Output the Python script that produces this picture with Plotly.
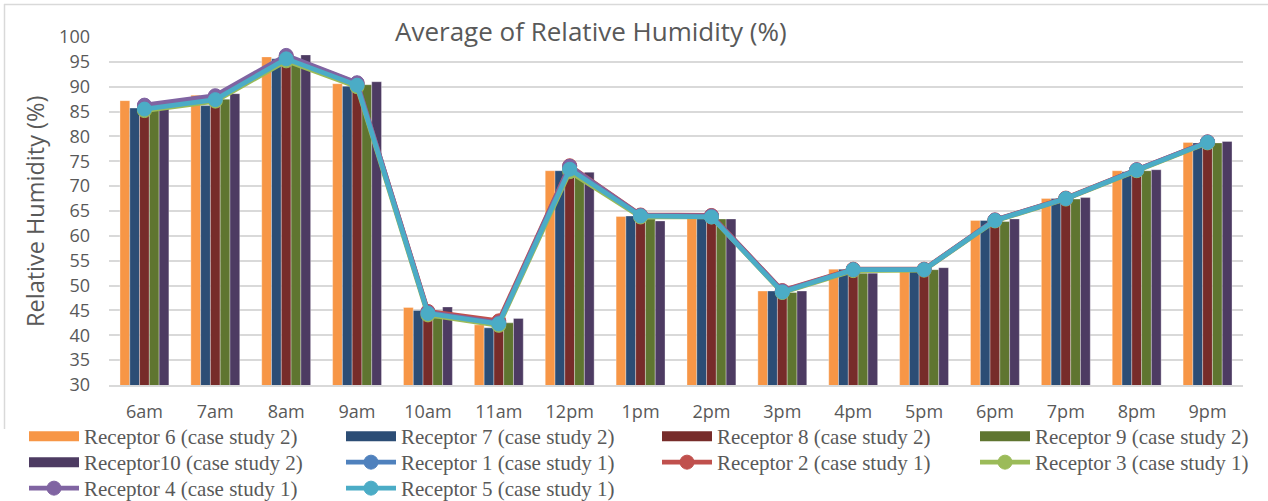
import plotly.graph_objects as go

hours = ["6am", "7am", "8am", "9am", "10am", "11am", "12pm", "1pm",
         "2pm", "3pm", "4pm", "5pm", "6pm", "7pm", "8pm", "9pm"]

# Case study 2 receptors (bars)
receptor6 = [87.2, 88.3, 96.0, 90.6, 45.6, 42.1, 73.1, 63.9, 63.6, 48.9, 53.3, 52.9, 63.1, 67.5, 73.1, 78.8]
receptor7 = [85.7, 86.2, 95.6, 90.1, 45.0, 41.5, 73.1, 64.0, 63.5, 48.9, 53.3, 53.2, 63.1, 67.5, 72.9, 78.7]
receptor8 = [85.8, 86.8, 95.9, 90.3, 44.4, 41.9, 73.2, 63.5, 63.2, 48.4, 52.9, 53.0, 62.9, 67.3, 72.9, 78.6]
receptor9 = [85.3, 87.5, 95.3, 90.4, 43.5, 42.5, 72.5, 63.4, 63.4, 48.6, 52.5, 53.2, 62.9, 67.4, 73.1, 78.7]
receptor10 = [85.5, 88.6, 96.4, 91.0, 45.7, 43.4, 72.8, 63.0, 63.4, 48.9, 52.5, 53.6, 63.4, 67.7, 73.3, 79.0]

# Case study 1 receptors (lines)
receptor1 = [85.7, 87.6, 95.8, 90.4, 44.5, 42.4, 73.5, 64.0, 64.0, 48.8, 53.2, 53.2, 63.1, 67.5, 73.2, 78.8]
receptor2 = [86.1, 88.0, 96.1, 90.7, 44.8, 42.9, 74.1, 64.2, 64.1, 49.0, 53.3, 53.3, 63.2, 67.6, 73.3, 78.9]
receptor3 = [85.2, 87.1, 95.2, 90.0, 44.1, 42.0, 72.9, 63.8, 63.8, 48.6, 53.0, 53.1, 63.0, 67.4, 73.1, 78.7]
receptor4 = [86.3, 88.2, 96.3, 90.8, 44.6, 42.5, 74.0, 64.1, 64.0, 48.9, 53.2, 53.2, 63.2, 67.5, 73.3, 78.9]
receptor5 = [85.5, 87.4, 95.6, 90.3, 44.4, 42.3, 73.4, 64.0, 63.8, 48.7, 53.2, 53.2, 63.1, 67.5, 73.2, 78.8]

# (name, values, colour, legend column, legend row)
bar_series = [
    ("Receptor 6 (case study 2)", receptor6, "#F79646", 0, 0),
    ("Receptor 7 (case study 2)", receptor7, "#2C4D75", 1, 0),
    ("Receptor 8 (case study 2)", receptor8, "#772C2A", 2, 0),
    ("Receptor 9 (case study 2)", receptor9, "#5F7530", 3, 0),
    ("Receptor10 (case study 2)", receptor10, "#4D3B62", 0, 1),
]
line_series = [
    ("Receptor 1 (case study 1)", receptor1, "#4F81BD", 1, 1),
    ("Receptor 2 (case study 1)", receptor2, "#C0504D", 2, 1),
    ("Receptor 3 (case study 1)", receptor3, "#9BBB59", 3, 1),
    ("Receptor 4 (case study 1)", receptor4, "#8064A2", 0, 2),
    ("Receptor 5 (case study 1)", receptor5, "#4BACC6", 1, 2),
]

GREY = "#595959"
GRID = "#D9D9D9"
L, R, T, B = 109, 25, 37, 116
W, H = 1268, 501
PW, PH = W - L - R, H - T - B


def px_x(px):
    return (px - L) / PW


def px_y(py):
    return (H - B - py) / PH


# legend key positions (left edge of each column, top of each row)
col_px = [24, 341, 657, 975]
row_px = [416, 442, 468]
legend_font = dict(family="Liberation Serif", size=21, color=GREY)

fig = go.Figure()
legend_layouts = {}
counter = [0]


def next_legend(col, row):
    counter[0] += 1
    key = "legend" if counter[0] == 1 else f"legend{counter[0]}"
    legend_layouts[key] = dict(
        orientation="v", xanchor="left", yanchor="top",
        x=px_x(col_px[col]), y=px_y(row_px[row]),
        font=legend_font, itemwidth=50, bgcolor="rgba(0,0,0,0)",
        borderwidth=0, tracegroupgap=0,
    )
    return key


for name, vals, color, col, row in bar_series:
    fig.add_trace(go.Bar(
        x=hours, y=vals, name=name, legendgroup=name, showlegend=False,
        marker=dict(color=color, line=dict(color="rgba(255,255,255,0.55)", width=0.6)),
    ))

for name, vals, color, col, row in bar_series:
    # wide rectangular legend key for each bar series
    fig.add_trace(go.Scatter(
        x=[hours[0]], y=[None], mode="lines", name=name, legendgroup=name,
        line=dict(color=color, width=12), legend=next_legend(col, row),
    ))

for name, vals, color, col, row in line_series:
    fig.add_trace(go.Scatter(
        x=hours, y=vals, name=name, mode="lines+markers", legend=next_legend(col, row),
        line=dict(color=color, width=4.8),
        marker=dict(color=color, size=14, line=dict(color=color, width=1)),
    ))

fig.update_layout(
    width=W, height=H,
    margin=dict(l=L, r=R, t=T, b=B, autoexpand=False),
    paper_bgcolor="white", plot_bgcolor="white",
    barmode="group", bargap=0.31, bargroupgap=0,
    font=dict(family="Open Sans", color=GREY),
    xaxis=dict(showgrid=False, showline=True, linecolor=GRID, linewidth=1.5,
               ticks="", tickfont=dict(size=18, color=GREY), ticklabelstandoff=10,
               categoryorder="array", categoryarray=hours, range=[-0.5, len(hours) - 0.5]),
    yaxis=dict(range=[30, 100], dtick=5, showgrid=True, gridcolor=GRID, gridwidth=1.5,
               zeroline=False, showline=False, ticks="",
               tickfont=dict(size=18, color=GREY), ticklabelstandoff=18),
    annotations=[
        dict(text="Average of Relative Humidity (%)", xref="paper", yref="paper",
             x=px_x(591), y=px_y(31), xanchor="center", yanchor="middle", showarrow=False,
             font=dict(family="Open Sans", size=26, color=GREY), bgcolor="white"),
        dict(text="Relative Humidity (%)", xref="paper", yref="paper",
             x=px_x(35), y=px_y(212), xanchor="center", yanchor="middle", showarrow=False,
             textangle=-90, font=dict(family="Open Sans", size=23.5, color=GREY)),
    ],
    shapes=[
        dict(type="line", xref="paper", yref="paper", x0=px_x(4), x1=px_x(1270),
             y0=px_y(4.5), y1=px_y(4.5), line=dict(color=GRID, width=1.5)),
        dict(type="line", xref="paper", yref="paper", x0=px_x(4.5), x1=px_x(4.5),
             y0=px_y(4), y1=px_y(429), line=dict(color=GRID, width=1.5)),
    ],
)
fig.update_layout(**legend_layouts)

fig.write_html("out.html")
